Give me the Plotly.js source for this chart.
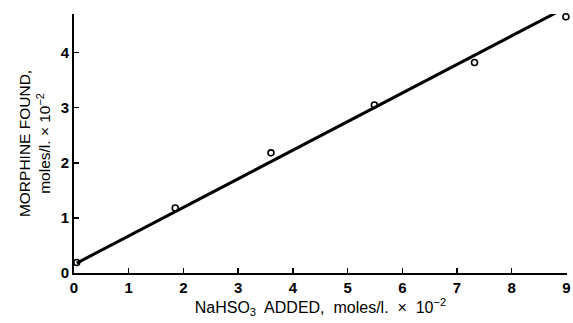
<!DOCTYPE html>
<html><head><meta charset="utf-8">
<script src="https://cdn.plot.ly/plotly-3.0.1.min.js"></script>
<style>html,body{margin:0;padding:0;background:#fff}</style>
</head><body><div id="c" style="width:573px;height:323px"></div>
<script>
const naHSO3Added = [0.05, 1.85, 3.6, 5.49, 7.32, 8.99];
const morphineFound = [0.19, 1.18, 2.18, 3.05, 3.82, 4.65];
const fitX = [0.05, 8.9];
const fitY = [0.18, 4.77];
const xTicks = [0,1,2,3,4,5,6,7,8,9];
const yTicks = [0,1,2,3,4];

const traces = [
  {x: fitX, y: fitY, mode: 'lines', line: {color: '#000', width: 3}, hoverinfo: 'skip'},
  {x: naHSO3Added, y: morphineFound, mode: 'markers', cliponaxis: false,
   marker: {symbol: 'circle-open', size: 6, color: '#000', line: {width: 1.6, color: '#000'}}}
];
const font = {family: 'Liberation Sans, Arial, sans-serif', color: '#000'};
const tickFont = {family: 'Liberation Sans, Arial, sans-serif', size: 15, color: '#000', weight: 'bold'};
const layout = {
  width: 573, height: 323, showlegend: false,
  paper_bgcolor: '#fff', plot_bgcolor: '#fff',
  margin: {l: 74, r: 6, t: 14, b: 50},
  font: font,
  xaxis: {range: [0, 9.01], tickvals: xTicks, ticktext: xTicks.map(String), ticklabeloverflow: 'allow',
    showline: true, linewidth: 2, linecolor: '#000', showgrid: false, zeroline: false,
    ticks: 'inside', ticklen: 5, tickwidth: 1.5, tickcolor: '#000', tickfont: tickFont,
    title: {text: 'NaHSO<sub>3</sub>  ADDED,  moles/l.  ×  10<sup>−2</sup>', font: {size: 16, color: '#000'}, standoff: 0}},
  yaxis: {range: [0, 4.7], tickvals: yTicks, ticktext: yTicks.map(String),
    showline: true, linewidth: 2, linecolor: '#000', showgrid: false, zeroline: false,
    ticks: 'inside', ticklen: 5, tickwidth: 1.5, tickcolor: '#000', tickfont: tickFont,
    title: {text: 'MORPHINE FOUND,<br>moles/l. × 10<sup>−2</sup>', font: {size: 15.5, color: '#000'}, standoff: 6}}
};
Plotly.newPlot('c', traces, layout, {staticPlot: true});
</script></body></html>
